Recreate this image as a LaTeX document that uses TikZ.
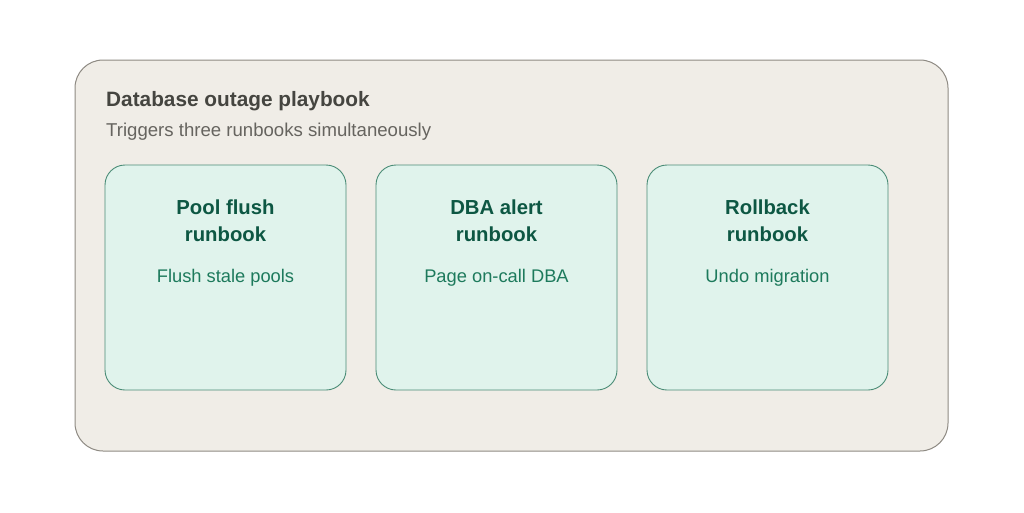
\documentclass[tikz,border=0pt]{standalone}
\usepackage{fontspec}
\setmainfont{Liberation Sans}
\definecolor{outerfill}{HTML}{F0EDE7}
\definecolor{outerdraw}{HTML}{8E8A83}
\definecolor{innerfill}{HTML}{E0F3EC}
\definecolor{innerdraw}{HTML}{4A8C76}
\definecolor{titlecol}{HTML}{454540}
\definecolor{subcol}{HTML}{66645F}
\definecolor{rbtitle}{HTML}{0D5743}
\definecolor{rbsub}{HTML}{1D7A5C}
\begin{document}
\begin{tikzpicture}[x=1pt,y=-1pt,
  outerbox/.style={draw=outerdraw,fill=outerfill,line width=1pt,rounded corners=28pt},
  rbbox/.style={draw=innerdraw,fill=innerfill,line width=0.9pt,rounded corners=20pt},
  rbtitlestyle/.style={text=rbtitle,font=\fontsize{20.3}{27}\selectfont\bfseries,align=center,anchor=center},
  rbsubstyle/.style={text=rbsub,font=\fontsize{18.3}{20}\selectfont,anchor=center},
]
\useasboundingbox (0,0) rectangle (1024,512);
\path[outerbox] (75,60) rectangle (948,451);
\node[anchor=base west,inner sep=0,text=titlecol,font=\fontsize{20.8}{24}\selectfont\bfseries] (title) at (106,106) {Database outage playbook};
\node[anchor=base west,inner sep=0,text=subcol,font=\fontsize{18.6}{20}\selectfont] (sub) at (106,136) {Triggers three runbooks simultaneously};
\foreach \x/\n/\a/\b/\s in {105/a/Pool flush/runbook/Flush stale pools, 376/b/DBA alert/runbook/Page on-call DBA, 647/c/Rollback/runbook/Undo migration}{
  \path[rbbox] (\x,165) rectangle ++(241,225);
  \node[rbtitlestyle] (t\n) at (\x+120.5,220.5) {\a\\\b};
  \node[rbsubstyle] (s\n) at (\x+120.5,278) {\s};
}
\end{tikzpicture}
\end{document}
